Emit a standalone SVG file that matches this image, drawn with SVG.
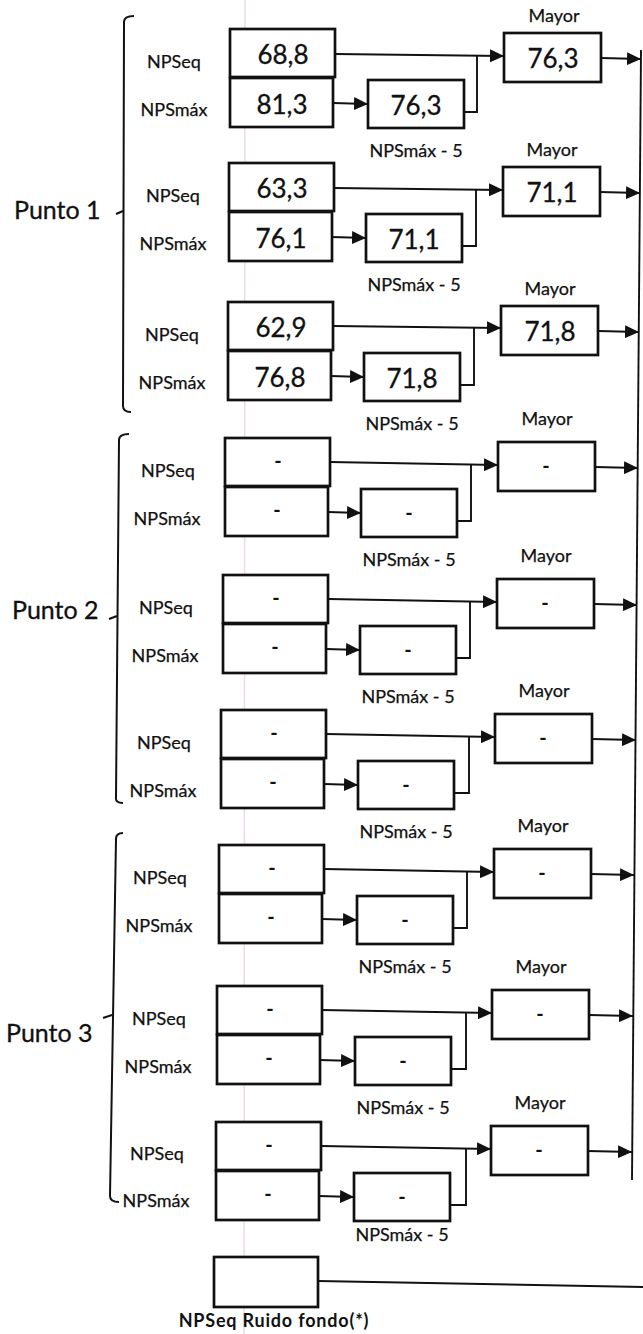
<svg xmlns="http://www.w3.org/2000/svg" width="643" height="1334" viewBox="0 0 643 1334">
<style>
.bg{fill:#ffffff}
.box{fill:#ffffff;stroke:#111;stroke-width:2.7}
.num{font-family:Lato,"Liberation Sans",sans-serif;font-size:26px;fill:#111;stroke:#111;stroke-width:0.3;text-anchor:middle}
.dash{font-family:Lato,"Liberation Sans",sans-serif;font-size:20px;font-weight:bold;fill:#111;text-anchor:middle}
.lbl{font-family:Lato,"Liberation Sans",sans-serif;font-size:18px;fill:#111;stroke:#111;stroke-width:0.25;text-anchor:middle}
.pt{font-family:Lato,"Liberation Sans",sans-serif;font-size:25px;fill:#111;stroke:#111;stroke-width:0.3}
.foot{font-family:Lato,"Liberation Sans",sans-serif;font-size:18px;font-weight:bold;letter-spacing:0.8px;fill:#111;text-anchor:middle}
.ln{fill:none;stroke:#111;stroke-width:1.9}
.arr{fill:none;stroke:#111;stroke-width:1.9;marker-end:url(#ah)}
.br{fill:none;stroke:#111;stroke-width:2}
.scan{stroke:#e9dbe9;stroke-width:1.5}
</style>
<defs>
<marker id="ah" viewBox="0 0 14 13" refX="14" refY="6.5" markerWidth="14" markerHeight="13" markerUnits="userSpaceOnUse" orient="auto">
<path d="M0,0 L14,6.5 L0,13 Z" fill="#111"/>
</marker>
</defs>
<rect class="bg" x="0" y="0" width="643" height="1334"/>
<line class="scan" x1="245" y1="0" x2="244" y2="1334"/>

<g id="punto1">
<path class="br" d="M134,16 Q124,16 124,22 L123,406 Q123,412 131,412"/>
<line class="br" x1="116" y1="214" x2="123" y2="211"/>
<text class="pt" x="14" y="219">Punto 1</text>
</g>
<g id="punto2">
<path class="br" d="M129,434 Q119,434 119,440 L116,797 Q115,803 123,803"/>
<line class="br" x1="109" y1="619" x2="117" y2="616"/>
<text class="pt" x="12" y="619">Punto 2</text>
</g>
<g id="punto3">
<path class="br" d="M123,833 Q116,833 116,839 L110,1196 Q110,1202 119,1202"/>
<line class="br" x1="103" y1="1018" x2="112" y2="1015"/>
<text class="pt" x="6" y="1042">Punto 3</text>
</g>

<g id="g1">
<text class="lbl" x="174" y="68">NPSeq</text>
<text class="lbl" x="174" y="116">NPSmáx</text>
<rect class="box" x="230" y="29" width="105" height="48"/><text class="num" x="283" y="64">68,8</text>
<rect class="box" x="230" y="78" width="103" height="49"/><text class="num" x="282" y="114">81,3</text>
<rect class="box" x="368" y="80" width="96" height="48"/><text class="num" x="416" y="115">76,3</text>
<rect class="box" x="504" y="33" width="97" height="49"/><text class="num" x="553" y="68">76,3</text>
<text class="lbl" x="554" y="22">Mayor</text>
<text class="lbl" x="416" y="157">NPSmáx - 5</text>
</g>
<g id="g2">
<text class="lbl" x="173" y="202">NPSeq</text>
<text class="lbl" x="173" y="250">NPSmáx</text>
<rect class="box" x="229" y="163" width="105" height="48"/><text class="num" x="282" y="198">63,3</text>
<rect class="box" x="229" y="212" width="103" height="49"/><text class="num" x="281" y="248">76,1</text>
<rect class="box" x="366" y="214" width="96" height="48"/><text class="num" x="414" y="249">71,1</text>
<rect class="box" x="503" y="167" width="97" height="49"/><text class="num" x="552" y="202">71,1</text>
<text class="lbl" x="552" y="156">Mayor</text>
<text class="lbl" x="414" y="291">NPSmáx - 5</text>
</g>
<g id="g3">
<text class="lbl" x="172" y="341">NPSeq</text>
<text class="lbl" x="172" y="389">NPSmáx</text>
<rect class="box" x="228" y="302" width="105" height="48"/><text class="num" x="281" y="337">62,9</text>
<rect class="box" x="228" y="351" width="103" height="49"/><text class="num" x="280" y="387">76,8</text>
<rect class="box" x="364" y="353" width="96" height="48"/><text class="num" x="412" y="388">71,8</text>
<rect class="box" x="501" y="306" width="97" height="49"/><text class="num" x="550" y="341">71,8</text>
<text class="lbl" x="550" y="295">Mayor</text>
<text class="lbl" x="412" y="430">NPSmáx - 5</text>
</g>
<g id="g4">
<text class="lbl" x="168" y="477">NPSeq</text>
<text class="lbl" x="167" y="525">NPSmáx</text>
<rect class="box" x="225" y="438" width="105" height="48"/><text class="dash" x="278" y="468">-</text>
<rect class="box" x="225" y="487" width="103" height="49"/><text class="dash" x="277" y="517">-</text>
<rect class="box" x="361" y="489" width="96" height="48"/><text class="dash" x="409" y="520">-</text>
<rect class="box" x="498" y="442" width="97" height="49"/><text class="dash" x="546" y="473">-</text>
<text class="lbl" x="547" y="425">Mayor</text>
<text class="lbl" x="409" y="566">NPSmáx - 5</text>
</g>
<g id="g5">
<text class="lbl" x="166" y="614">NPSeq</text>
<text class="lbl" x="165" y="662">NPSmáx</text>
<rect class="box" x="223" y="575" width="105" height="48"/><text class="dash" x="276" y="605">-</text>
<rect class="box" x="223" y="624" width="103" height="49"/><text class="dash" x="275" y="654">-</text>
<rect class="box" x="360" y="626" width="96" height="48"/><text class="dash" x="408" y="657">-</text>
<rect class="box" x="497" y="579" width="97" height="49"/><text class="dash" x="545" y="610">-</text>
<text class="lbl" x="546" y="562">Mayor</text>
<text class="lbl" x="408" y="703">NPSmáx - 5</text>
</g>
<g id="g6">
<text class="lbl" x="164" y="749">NPSeq</text>
<text class="lbl" x="163" y="797">NPSmáx</text>
<rect class="box" x="221" y="710" width="105" height="48"/><text class="dash" x="274" y="740">-</text>
<rect class="box" x="221" y="759" width="103" height="49"/><text class="dash" x="273" y="789">-</text>
<rect class="box" x="358" y="761" width="96" height="48"/><text class="dash" x="406" y="792">-</text>
<rect class="box" x="495" y="714" width="97" height="49"/><text class="dash" x="543" y="745">-</text>
<text class="lbl" x="544" y="697">Mayor</text>
<text class="lbl" x="406" y="838">NPSmáx - 5</text>
</g>
<g id="g7">
<text class="lbl" x="160" y="884">NPSeq</text>
<text class="lbl" x="159" y="932">NPSmáx</text>
<rect class="box" x="219" y="845" width="105" height="48"/><text class="dash" x="272" y="875">-</text>
<rect class="box" x="219" y="894" width="103" height="49"/><text class="dash" x="271" y="924">-</text>
<rect class="box" x="357" y="896" width="96" height="48"/><text class="dash" x="405" y="927">-</text>
<rect class="box" x="494" y="849" width="97" height="49"/><text class="dash" x="542" y="880">-</text>
<text class="lbl" x="543" y="832">Mayor</text>
<text class="lbl" x="405" y="973">NPSmáx - 5</text>
</g>
<g id="g8">
<text class="lbl" x="159" y="1025">NPSeq</text>
<text class="lbl" x="158" y="1073">NPSmáx</text>
<rect class="box" x="217" y="986" width="105" height="48"/><text class="dash" x="270" y="1016">-</text>
<rect class="box" x="217" y="1035" width="103" height="49"/><text class="dash" x="269" y="1065">-</text>
<rect class="box" x="355" y="1037" width="96" height="48"/><text class="dash" x="403" y="1068">-</text>
<rect class="box" x="492" y="990" width="97" height="49"/><text class="dash" x="540" y="1021">-</text>
<text class="lbl" x="541" y="973">Mayor</text>
<text class="lbl" x="403" y="1114">NPSmáx - 5</text>
</g>
<g id="g9">
<text class="lbl" x="157" y="1160">NPSeq</text>
<text class="lbl" x="156" y="1207">NPSmáx</text>
<rect class="box" x="216" y="1122" width="105" height="48"/><text class="dash" x="269" y="1152">-</text>
<rect class="box" x="216" y="1171" width="103" height="49"/><text class="dash" x="268" y="1201">-</text>
<rect class="box" x="354" y="1173" width="96" height="48"/><text class="dash" x="402" y="1204">-</text>
<rect class="box" x="491" y="1126" width="97" height="49"/><text class="dash" x="539" y="1157">-</text>
<text class="lbl" x="540" y="1109">Mayor</text>
<text class="lbl" x="402" y="1241">NPSmáx - 5</text>
</g>
<g id="ruido">
<rect class="box" x="214" y="1257" width="104" height="50"/>
<text class="foot" x="274" y="1327">NPSeq Ruido fondo(*)</text>
</g>

<g id="connectors">
<line class="ln" x1="641" y1="50" x2="632" y2="1180"/>
<line class="ln" x1="318" y1="1281" x2="643" y2="1287"/>

<line class="arr" x1="335" y1="54" x2="504" y2="56"/>
<line class="arr" x1="333" y1="103" x2="368" y2="104"/>
<polyline class="ln" points="464,112 477,112 477,55"/>
<line class="arr" x1="601" y1="58" x2="641" y2="59"/>

<line class="arr" x1="334" y1="188" x2="503" y2="190"/>
<line class="arr" x1="332" y1="237" x2="366" y2="238"/>
<polyline class="ln" points="462,246 476,246 476,189"/>
<line class="arr" x1="600" y1="192" x2="640" y2="193"/>

<line class="arr" x1="333" y1="326" x2="501" y2="328"/>
<line class="arr" x1="331" y1="376" x2="364" y2="377"/>
<polyline class="ln" points="460,385 474,385 474,327"/>
<line class="arr" x1="598" y1="331" x2="639" y2="332"/>

<line class="arr" x1="330" y1="462" x2="498" y2="465"/>
<line class="arr" x1="328" y1="512" x2="361" y2="513"/>
<polyline class="ln" points="457,521 471,521 471,464"/>
<line class="arr" x1="595" y1="467" x2="638" y2="468"/>

<line class="arr" x1="328" y1="599" x2="497" y2="602"/>
<line class="arr" x1="326" y1="649" x2="360" y2="650"/>
<polyline class="ln" points="456,658 470,658 470,601"/>
<line class="arr" x1="594" y1="604" x2="637" y2="605"/>

<line class="arr" x1="326" y1="734" x2="495" y2="737"/>
<line class="arr" x1="324" y1="784" x2="358" y2="785"/>
<polyline class="ln" points="454,793 469,793 469,736"/>
<line class="arr" x1="592" y1="739" x2="636" y2="740"/>

<line class="arr" x1="324" y1="869" x2="494" y2="872"/>
<line class="arr" x1="322" y1="919" x2="357" y2="920"/>
<polyline class="ln" points="453,928 467,928 467,871"/>
<line class="arr" x1="591" y1="874" x2="634" y2="875"/>

<line class="arr" x1="322" y1="1010" x2="492" y2="1013"/>
<line class="arr" x1="320" y1="1060" x2="355" y2="1061"/>
<polyline class="ln" points="451,1069 466,1069 466,1012"/>
<line class="arr" x1="589" y1="1015" x2="633" y2="1016"/>

<line class="arr" x1="321" y1="1146" x2="491" y2="1149"/>
<line class="arr" x1="319" y1="1196" x2="354" y2="1197"/>
<polyline class="ln" points="450,1205 466,1205 466,1148"/>
<line class="arr" x1="588" y1="1151" x2="632" y2="1152"/>
</g>
</svg>
